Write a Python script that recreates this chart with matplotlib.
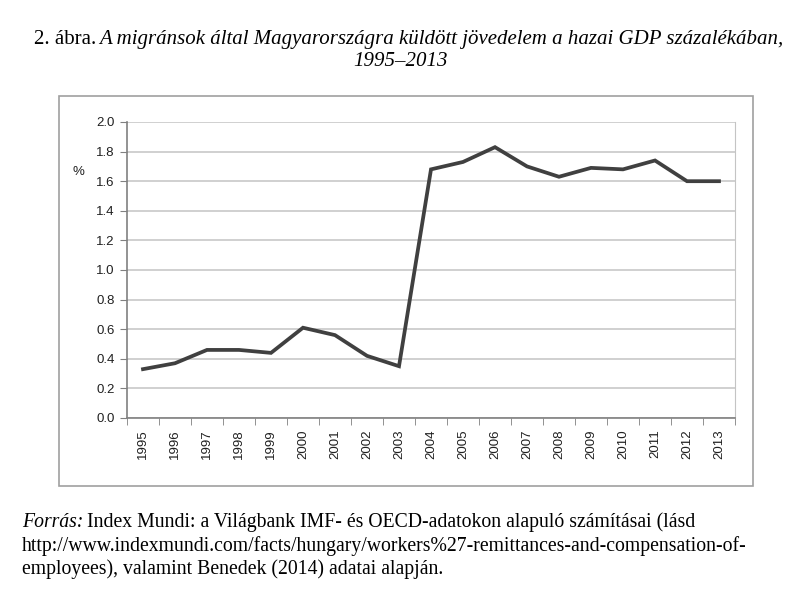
import matplotlib
matplotlib.use('Agg')
import matplotlib.pyplot as plt
from matplotlib.patches import Rectangle

# Adatok
years = ['1995', '1996', '1997', '1998', '1999', '2000', '2001', '2002', '2003', '2004',
         '2005', '2006', '2007', '2008', '2009', '2010', '2011', '2012', '2013']
values = [0.33, 0.37, 0.46, 0.46, 0.44, 0.61, 0.56, 0.42, 0.35, 1.68,
          1.73, 1.83, 1.70, 1.63, 1.69, 1.68, 1.74, 1.60, 1.60]
y_ticks = [0.0, 0.2, 0.4, 0.6, 0.8, 1.0, 1.2, 1.4, 1.6, 1.8, 2.0]

W, H = 800, 595
fig = plt.figure(figsize=(W / 100, H / 100), dpi=100)

# Külső keret
fig.patches.append(Rectangle((59 / W, 1 - 486 / H), (753 - 59) / W, (486 - 96) / H,
                             transform=fig.transFigure, fill=False,
                             edgecolor='#a0a0a0', linewidth=1.2))

ax = fig.add_axes([127 / W, 1 - 418 / H, (735 - 127) / W, (418 - 122) / H])

x = [i + 0.5 for i in range(len(years))]
ax.plot(x, values, color='#404040', linewidth=2.7, solid_joinstyle='miter', zorder=3)

ax.set_xlim(0, len(years))
ax.set_ylim(0, 2.0)
ax.set_yticks(y_ticks)
ax.set_yticklabels(['%.1f' % v for v in y_ticks], fontsize=9.5, family='Liberation Sans',
                   color='#202020')
ax.set_xticks(x)
ax.set_xticklabels(years, rotation=90, fontsize=9.5, family='Liberation Sans',
                   color='#202020')
ax.set_xticks(range(len(years) + 1), minor=True)
ax.tick_params(axis='x', which='major', length=0, pad=8)
ax.tick_params(axis='x', which='minor', length=5, color='#808080', direction='out')
ax.tick_params(axis='y', length=5, color='#808080', direction='out', pad=4)

ax.grid(axis='y', color='#c4c4c4', linewidth=1.1)
ax.set_axisbelow(True)
for s in ['left', 'bottom']:
    ax.spines[s].set_color('#808080')
    ax.spines[s].set_linewidth(1.2)
ax.spines['top'].set_visible(False)
ax.spines['right'].set_color('#c4c4c4')

fig.text(78 / W, 1 - 172 / H, '%', fontsize=9.5, family='Liberation Sans',
         ha='center', va='center', color='#202020')

# Cím
serif = 'Liberation Serif'
fig.text(96 / W, 1 - 44 / H, '2. ábra.', family=serif, fontsize=15,
         ha='right', va='baseline')
fig.text(783 / W, 1 - 44 / H,
         'A migránsok által Magyarországra küldött jövedelem a hazai GDP százalékában,',
         family=serif, style='italic', fontsize=15, ha='right', va='baseline')
fig.text(0.5, 1 - 66 / H, '1995–2013', family=serif, style='italic', fontsize=15,
         ha='center', va='baseline')

# Forrás
fig.text(22 / W, 1 - 527 / H, 'Forrás:', family=serif, style='italic', fontsize=14.2,
         ha='left', va='baseline')
fig.text(87 / W, 1 - 527 / H,
         'Index Mundi: a Világbank IMF- és OECD-adatokon alapuló számításai (lásd',
         family=serif, fontsize=14.2, ha='left', va='baseline')
fig.text(22 / W, 1 - 551 / H,
         'http://www.indexmundi.com/facts/hungary/workers%27-remittances-and-compensation-of-',
         family=serif, fontsize=14.2, ha='left', va='baseline')
fig.text(22 / W, 1 - 574 / H,
         'employees), valamint Benedek (2014) adatai alapján.',
         family=serif, fontsize=14.2, ha='left', va='baseline')

fig.savefig('out.png', dpi=100)
